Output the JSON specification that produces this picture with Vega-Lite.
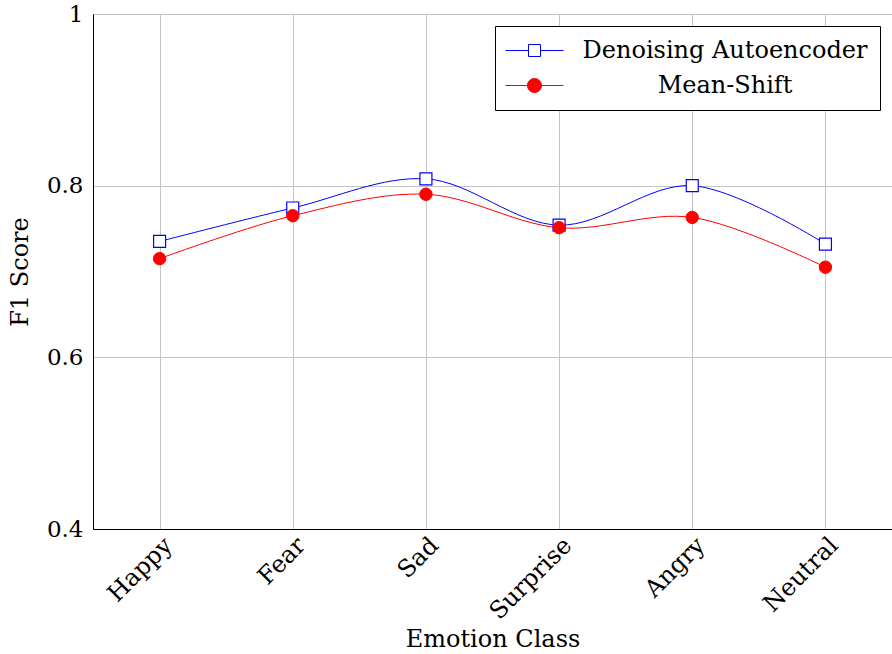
{
  "$schema": "https://vega.github.io/schema/vega-lite/v6.json",
  "width": 799,
  "height": 515,
  "autosize": {"type": "none"},
  "padding": {"left": 93, "top": 14, "right": 0, "bottom": 125},
  "background": "white",
  "config": {
    "font": "DejaVu Serif",
    "view": {"stroke": "black", "strokeWidth": 1},
    "axis": {
      "labelFont": "DejaVu Serif",
      "titleFont": "DejaVu Serif",
      "labelFontSize": 23,
      "titleFontSize": 24,
      "labelColor": "black",
      "titleColor": "black",
      "titleFontWeight": "normal",
      "domainColor": "black",
      "gridColor": "#c4c4c4",
      "gridWidth": 1,
      "ticks": false
    }
  },
  "data": {
    "values": [
      {"emotion": "Happy", "series": "Denoising Autoencoder", "f1": 0.735},
      {"emotion": "Fear", "series": "Denoising Autoencoder", "f1": 0.774},
      {"emotion": "Sad", "series": "Denoising Autoencoder", "f1": 0.808},
      {"emotion": "Surprise", "series": "Denoising Autoencoder", "f1": 0.754},
      {"emotion": "Angry", "series": "Denoising Autoencoder", "f1": 0.800},
      {"emotion": "Neutral", "series": "Denoising Autoencoder", "f1": 0.732},
      {"emotion": "Happy", "series": "Mean-Shift", "f1": 0.715},
      {"emotion": "Fear", "series": "Mean-Shift", "f1": 0.765},
      {"emotion": "Sad", "series": "Mean-Shift", "f1": 0.790},
      {"emotion": "Surprise", "series": "Mean-Shift", "f1": 0.751},
      {"emotion": "Angry", "series": "Mean-Shift", "f1": 0.763},
      {"emotion": "Neutral", "series": "Mean-Shift", "f1": 0.705}
    ]
  },
  "encoding": {
    "x": {
      "field": "emotion",
      "type": "ordinal",
      "sort": ["Happy", "Fear", "Sad", "Surprise", "Angry", "Neutral"],
      "scale": {"type": "point", "padding": 0.5},
      "axis": {
        "title": "Emotion Class",
        "labelAngle": -45,
        "labelAlign": "right",
        "labelBaseline": "top",
        "labelFontSize": 24,
        "labelPadding": 4,
        "titlePadding": 4,
        "grid": true
      }
    },
    "y": {
      "field": "f1",
      "type": "quantitative",
      "scale": {"domain": [0.4, 1], "nice": false, "zero": false},
      "axis": {
        "title": "F1 Score",
        "values": [0.4, 0.6, 0.8, 1],
        "format": ".1~f",
        "labelPadding": 10,
        "titlePadding": 14,
        "grid": true
      }
    },
    "stroke": {
      "field": "series",
      "type": "nominal",
      "scale": {
        "domain": ["Denoising Autoencoder", "Mean-Shift"],
        "range": ["#0000ff", "#ff0000"]
      },
      "legend": {
        "title": null,
        "orient": "top-right",
        "offset": 12,
        "fillColor": "white",
        "strokeColor": "black",
        "padding": 12,
        "labelFont": "DejaVu Serif",
        "labelFontSize": 24,
        "labelColor": "black",
        "labelAlign": "center",
        "labelOffset": 178,
        "labelLimit": 500,
        "rowPadding": 10,
        "symbolOffset": 15,
        "symbolOpacity": 1,
        "symbolStrokeWidth": 1
      }
    }
  },
  "layer": [
    {
      "mark": {"type": "line", "interpolate": "catmull-rom", "strokeWidth": 1}
    },
    {
      "description": "legend key glyphs: a short line through the marker",
      "mark": {"type": "point", "opacity": 0, "strokeWidth": 1},
      "encoding": {
        "shape": {
          "field": "series",
          "type": "nominal",
          "scale": {
            "domain": ["Denoising Autoencoder", "Mean-Shift"],
            "range": [
              "M-2.417,0H-0.5M0.5,0H2.417M-0.5,-0.5H0.5V0.5H-0.5Z",
              "M-2.417,0H-0.583M0.583,0H2.417M-0.583,0A0.583,0.583 0 1,1 0.583,0A0.583,0.583 0 1,1 -0.583,0Z"
            ]
          }
        },
        "fill": {
          "field": "series",
          "type": "nominal",
          "scale": {"domain": ["Denoising Autoencoder", "Mean-Shift"], "range": ["white", "#ff0000"]}
        },
        "size": {
          "field": "series",
          "type": "nominal",
          "scale": {"domain": ["Denoising Autoencoder", "Mean-Shift"], "range": [576, 576]}
        }
      }
    },
    {
      "transform": [{"filter": "datum.series === 'Denoising Autoencoder'"}],
      "mark": {"type": "point", "shape": "square", "size": 144, "filled": false, "fill": "white", "opacity": 1, "strokeWidth": 1.2}
    },
    {
      "transform": [{"filter": "datum.series === 'Mean-Shift'"}],
      "mark": {"type": "point", "shape": "circle", "size": 154, "filled": true, "fill": "#ff0000", "opacity": 1, "strokeWidth": 1}
    }
  ]
}
